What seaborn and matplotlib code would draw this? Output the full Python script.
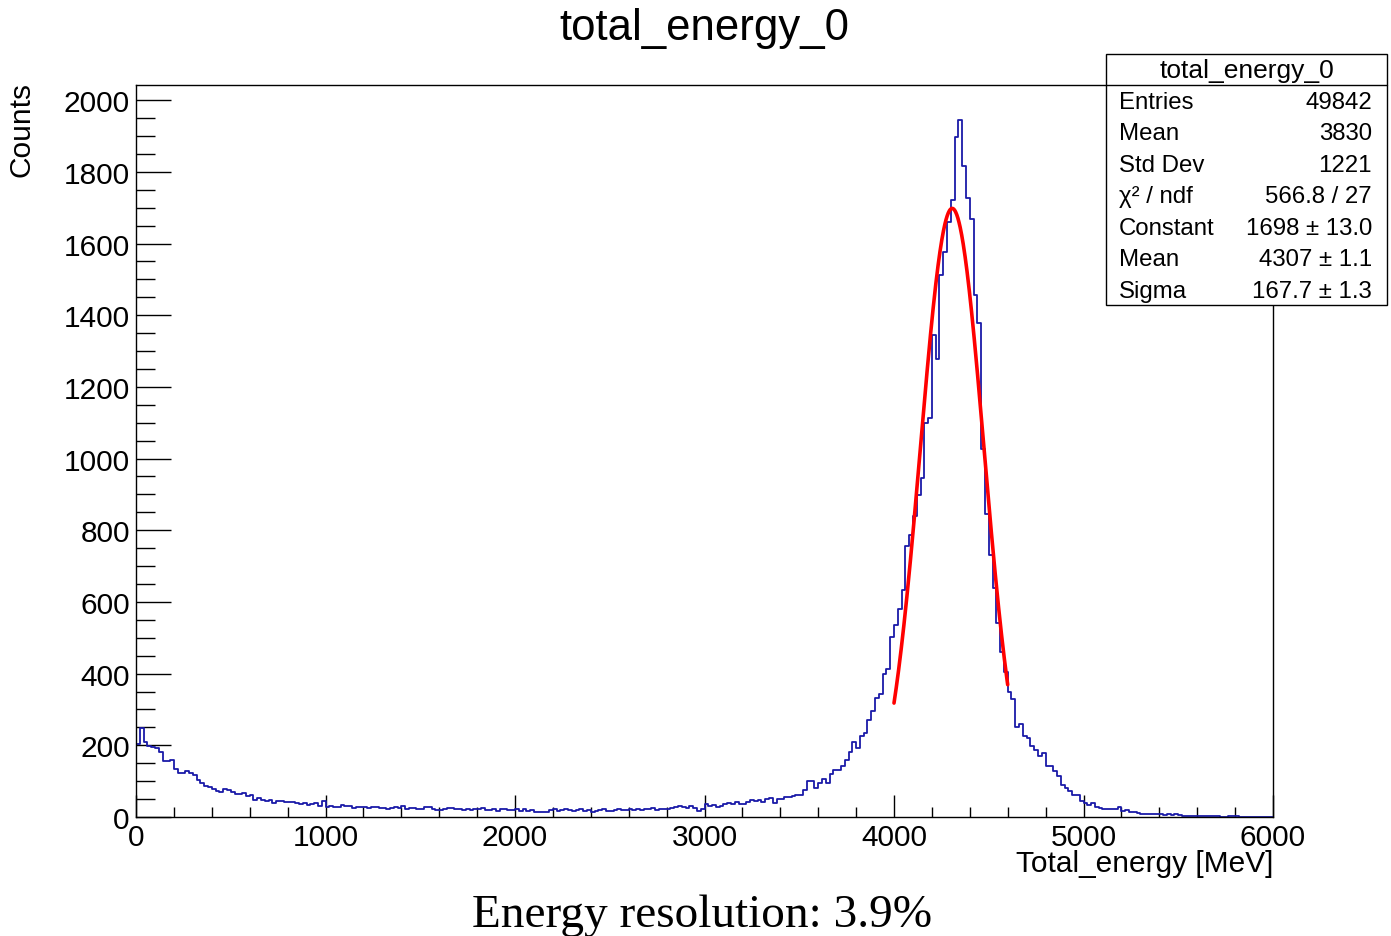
import numpy as np
import pandas as pd
import matplotlib
matplotlib.use("Agg")
import matplotlib.pyplot as plt
from matplotlib.ticker import MultipleLocator
from matplotlib.patches import Rectangle
from matplotlib.lines import Line2D
import seaborn as sns

# ---------------- data ----------------
bin_width = 20.0
x_min, x_max = 0.0, 6000.0

counts = [
    # 0 - 1000 MeV
    205, 248, 209, 197, 196, 193, 181, 155, 155, 159,
    134, 122, 122, 127, 124, 118, 104, 94, 87, 85,
    78, 72, 71, 77, 74, 71, 63, 64, 66, 58,
    60, 48, 52, 47, 45, 47, 39, 46, 46, 42,
    41, 41, 38, 35, 38, 34, 36, 39, 32, 44,
    # 1000 - 2000 MeV
    28, 31, 27, 28, 33, 32, 30, 26, 28, 27,
    29, 25, 28, 27, 24, 26, 22, 25, 28, 25,
    31, 22, 25, 26, 23, 23, 28, 27, 23, 20,
    20, 22, 24, 26, 21, 22, 19, 23, 20, 22,
    21, 24, 20, 19, 22, 18, 21, 23, 19, 20,
    # 2000 - 3000 MeV
    21, 18, 22, 17, 19, 14, 13, 13, 14, 20,
    22, 17, 20, 23, 20, 17, 19, 21, 18, 20,
    15, 18, 19, 21, 18, 17, 20, 22, 19, 20,
    21, 19, 23, 20, 22, 21, 24, 20, 22, 23,
    21, 24, 27, 30, 27, 26, 30, 25, 17, 22,
    # 3000 - 3500 MeV
    35, 30, 33, 29, 31, 35, 38, 36, 42, 36,
    35, 42, 47, 44, 48, 43, 50, 52, 40, 50,
    50, 55, 56, 58, 60,
    # 3500 - 4000 MeV
    62, 74, 100, 101, 80, 96, 107, 96, 120, 131,
    131, 142, 159, 181, 210, 192, 225, 235, 271, 295,
    333, 344, 398, 412, 503,
    # 4000 - 4600 MeV
    537, 581, 632, 756, 786, 840, 898, 946, 1098, 1112,
    1344, 1279, 1512, 1575, 1661, 1722, 1898, 1945, 1817, 1728,
    1668, 1456, 1377, 1028, 846, 730, 640, 540, 460, 405,
    # 4600 - 5000 MeV
    350, 330, 250, 260, 225, 220, 199, 188, 171, 179,
    143, 141, 129, 115, 88, 80, 72, 60, 62, 46,
    # 5000 - 6000 MeV
    39, 34, 39, 27, 24, 22, 22, 22, 21, 27,
    18, 19, 14, 14, 10, 9, 8, 8, 7, 9,
    8, 5, 9, 6, 8, 6, 4, 4, 3, 4,
    3, 3, 3, 2, 3, 2, 1, 0, 2, 2,
    2, 1, 1, 0, 1, 1, 1, 1, 1, 0,
]

# Gaussian fit results (from the stats box)
fit_constant = 1698.0
fit_mean = 4307.0
fit_sigma = 167.7
fit_range = [4000.0, 4600.0]

stats_title = "total_energy_0"
stats_labels = ["Entries", "Mean", "Std Dev", "χ² / ndf", "Constant", "Mean", "Sigma"]
stats_values = ["49842", "3830", "1221", "566.8 / 27", "1698 ± 13.0", "4307 ± 1.1", "167.7 ± 1.3"]

title = "total_energy_0"
xlabel = "Total_energy [MeV]"
ylabel = "Counts"
footer = "Energy resolution: 3.9%"

# ---------------- plotting ----------------
sns.set_style("ticks")
plt.rcParams["font.family"] = ["Liberation Sans", "DejaVu Sans"]
plt.rcParams.update({"text.color": "black", "axes.labelcolor": "black",
                     "xtick.color": "black", "ytick.color": "black",
                     "axes.edgecolor": "black"})

W, H = 1391, 937
fig = plt.figure(figsize=(W / 100, H / 100), dpi=100)
ax_l, ax_r, ax_t, ax_b = 136, 1273, 86, 818
ax = fig.add_axes([ax_l / W, (H - ax_b) / H, (ax_r - ax_l) / W, (ax_b - ax_t) / H])

n_bins = len(counts)
centers = x_min + bin_width * (np.arange(n_bins) + 0.5)
df = pd.DataFrame({"energy": centers, "count": np.asarray(counts, dtype=float)})

sns.histplot(data=df, x="energy", weights="count", binwidth=bin_width,
             binrange=(x_min, x_max), element="step", fill=False,
             color="#1a1aa8", linewidth=1.3, ax=ax)

xf = np.linspace(fit_range[0], fit_range[1], 300)
fit_df = pd.DataFrame({"x": xf,
                       "y": fit_constant * np.exp(-0.5 * ((xf - fit_mean) / fit_sigma) ** 2)})
sns.lineplot(data=fit_df, x="x", y="y", color="#ff0000", linewidth=2.6, ax=ax)

ax.set_xlim(x_min, x_max)
ax.set_ylim(0, max(counts) * 1.05)

ax.xaxis.set_major_locator(MultipleLocator(1000))
ax.xaxis.set_minor_locator(MultipleLocator(200))
ax.yaxis.set_major_locator(MultipleLocator(200))
ax.yaxis.set_minor_locator(MultipleLocator(50))

ax.tick_params(axis="both", which="both", direction="in", colors="black",
               labelcolor="black", width=1.0)
ax.tick_params(axis="y", which="major", length=25, pad=4.5, labelsize=21.5)
ax.tick_params(axis="y", which="minor", length=13.5)
ax.tick_params(axis="x", which="major", length=16, pad=4.5, labelsize=21.5)
ax.tick_params(axis="x", which="minor", length=7.5)
for sp in ax.spines.values():
    sp.set_visible(True)
    sp.set_color("black")
    sp.set_linewidth(1.0)

ax.set_xlabel(xlabel, fontsize=21.5, loc="right", color="black")
ax.xaxis.set_label_coords(1.0, -0.044)
ax.set_ylabel(ylabel, fontsize=21.5, loc="top", color="black")
ax.yaxis.set_label_coords(-0.0885, 1.006)
ax.set_title(title, fontsize=31.5, y=1 + (ax_t - 40) / (ax_b - ax_t), pad=0,
             va="baseline", color="black")

# ---------------- stats box ----------------
bx_l, bx_r, bx_t, bx_b = 1106, 1387, 55, 306
fig.patches.append(Rectangle((bx_l / W, (H - bx_b) / H), (bx_r - bx_l) / W, (bx_b - bx_t) / H,
                             transform=fig.transFigure, facecolor="white", edgecolor="black",
                             linewidth=1.0, zorder=5))
fig.lines.append(Line2D([bx_l / W, bx_r / W], [(H - 86) / H, (H - 86) / H],
                        transform=fig.transFigure, color="black", linewidth=1.0, zorder=6))
fig.text((bx_l + bx_r) / 2 / W, (H - 78) / H, stats_title, ha="center", va="baseline",
         fontsize=19, zorder=7, color="black")
for i, (lab, val) in enumerate(zip(stats_labels, stats_values)):
    yb = 109 + i * 31.5
    fig.text(1119 / W, (H - yb) / H, lab, ha="left", va="baseline", fontsize=17.3,
             zorder=7, color="black")
    fig.text(1372 / W, (H - yb) / H, val, ha="right", va="baseline", fontsize=17.3,
             zorder=7, color="black")

# ---------------- footer ----------------
fig.text(702 / W, (H - 927) / H, footer, ha="center", va="baseline", fontsize=34,
         color="black", family=["Liberation Serif", "DejaVu Serif"])

fig.savefig("out.png", dpi=100)
